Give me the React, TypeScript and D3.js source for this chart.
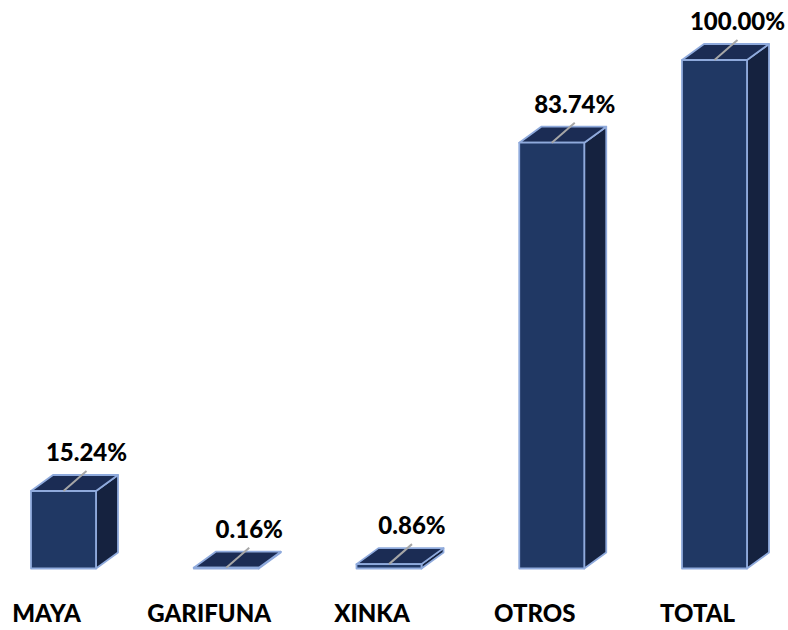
import React from "react";
import * as d3 from "d3";

const categories = ["MAYA", "GARIFUNA", "XINKA", "OTROS", "TOTAL"];
const values = [15.24, 0.16, 0.86, 83.74, 100.0];
const valueLabels = ["15.24%", "0.16%", "0.86%", "83.74%", "100.00%"];

const W = 788;
const H = 630;
const DX = 22;
const DY = -16;
const BAR_W = 65;

const FONT = "Lato, 'Open Sans', sans-serif";

export default function App() {
  const x = d3.scalePoint<string>().domain(categories).range([63.5, 714.5]);
  const y = d3.scaleLinear().domain([0, 100]).range([568.5, 60]);

  return (
    <svg
      width={W}
      height={H}
      style={{ position: "absolute", left: 0, top: 0, background: "#fff" }}
    >
      {categories.map((c, i) => {
        const cx = x(c)!;
        const x0 = cx - BAR_W / 2;
        const x1 = cx + BAR_W / 2;
        const yb = y(0);
        const yt = y(values[i]);
        const front = `M${x0},${yt}L${x1},${yt}L${x1},${yb}L${x0},${yb}Z`;
        const side = `M${x1},${yt}L${x1 + DX},${yt + DY}L${x1 + DX},${yb + DY}L${x1},${yb}Z`;
        const top = `M${x0},${yt}L${x0 + DX},${yt + DY}L${x1 + DX},${yt + DY}L${x1},${yt}Z`;
        return (
          <g key={c}>
            <path d={side} fill="#15223F" stroke="#8FAADC" strokeWidth={1.8} strokeLinejoin="round" />
            <path d={top} fill="#1B2C54" stroke="#8FAADC" strokeWidth={1.8} strokeLinejoin="round" />
            <path d={front} fill="#203864" stroke="#8FAADC" strokeWidth={1.8} strokeLinejoin="round" />
            <line
              x1={cx}
              y1={yt}
              x2={cx + 23}
              y2={yt - 20}
              stroke="#A6A6A6"
              strokeWidth={2}
            />
            <text
              x={cx + 23}
              y={yt - 30}
              textAnchor="middle"
              fontFamily={FONT}
              fontWeight={900}
              fontSize={24}
              fill="#000"
            >
              {valueLabels[i]}
            </text>
            <text
              x={cx - 17}
              y={622}
              textAnchor="middle"
              fontFamily={FONT}
              fontWeight={900}
              fontSize={24}
              fill="#000"
            >
              {c}
            </text>
          </g>
        );
      })}
    </svg>
  );
}
